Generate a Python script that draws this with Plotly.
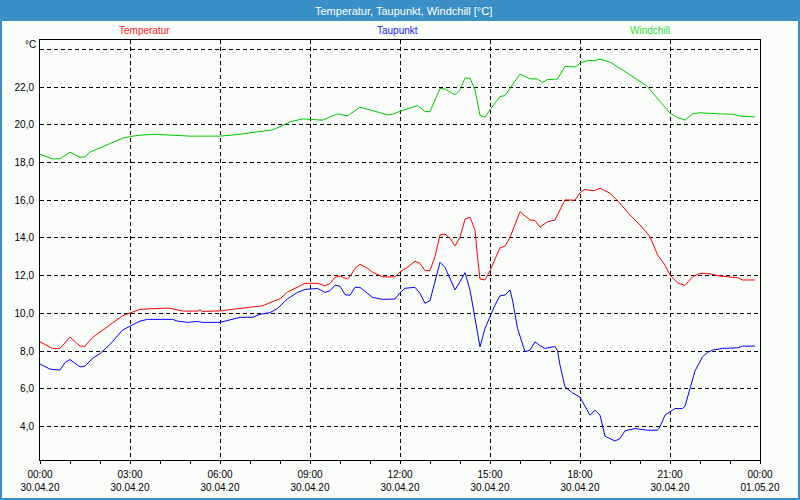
import plotly.graph_objects as go

DAY = "2020-04-30 "

# Windchill (green)
wc_t = ["00:00","00:25","00:40","01:00","01:20","01:30","01:40","02:15","02:45","03:00","03:20","03:50",
        "04:25","05:00","06:00","06:40","07:15","07:45","08:00","08:20","08:45","09:00","09:25","09:55",
        "10:15","10:40","11:05","11:35","11:45","12:00","12:35","12:50","13:00","13:20","13:30","13:50",
        "14:00","14:10","14:20","14:30","14:40","14:50","15:00","15:20","15:30","15:50","16:00","16:20",
        "16:35","16:45","16:55","17:15","17:30","17:50","18:00","18:15","18:30","18:40","19:00","19:20",
        "19:45","20:15","20:40","21:00","21:15","21:30","21:45","22:00","22:40","23:05","23:20","23:50"]
wc_v = [18.44,18.19,18.2,18.55,18.28,18.3,18.55,18.94,19.29,19.38,19.45,19.5,
        19.45,19.4,19.4,19.5,19.63,19.73,19.9,20.16,20.31,20.3,20.25,20.58,
        20.47,20.94,20.74,20.53,20.56,20.72,21.02,20.7,20.7,21.93,21.9,21.59,
        21.86,22.48,22.48,21.86,20.5,20.4,20.8,21.5,21.55,22.33,22.69,22.44,
        22.43,22.25,22.4,22.43,23.1,23.07,23.27,23.41,23.4,23.49,23.33,23.0,
        22.56,22.03,21.24,20.62,20.39,20.25,20.58,20.64,20.58,20.56,20.47,20.42]

# Temperatur (red)
t_t = ["00:00","00:25","00:40","01:00","01:20","01:30","01:45","02:05","02:25","02:45","03:00","03:20",
       "03:40","04:15","04:25","04:45","05:15","05:20","05:25","06:00","06:40","07:05","07:25","07:45",
       "08:00","08:15","08:35","08:50","09:15","09:30","09:40","09:50","10:00","10:15","10:20","10:30",
       "10:40","10:55","11:05","11:25","11:50","12:00","12:15","12:30","12:40","12:50","13:00","13:10",
       "13:20","13:30","13:40","13:50","14:00","14:10","14:20","14:30","14:35","14:40","14:50","15:00",
       "15:20","15:30","15:40","16:00","16:20","16:30","16:40","16:55","17:10","17:30","17:50","18:00",
       "18:10","18:20","18:30","18:40","19:00","19:15","19:40","20:00","20:20","20:35","20:50","21:00",
       "21:15","21:30","21:45","22:00","22:15","22:40","23:15","23:25","23:50"]
t_v = [8.49,8.14,8.14,8.74,8.26,8.26,8.72,9.11,9.47,9.87,10.02,10.21,
       10.24,10.28,10.24,10.12,10.12,10.19,10.1,10.13,10.26,10.33,10.4,10.62,
       10.77,11.13,11.38,11.59,11.59,11.46,11.59,11.91,11.98,11.82,11.95,12.39,
       12.6,12.39,12.18,11.94,11.93,12.2,12.44,12.76,12.65,12.26,12.28,13.0,
       14.16,14.2,13.98,13.57,14.03,15.0,15.1,14.42,13.0,11.82,11.77,12.26,
       13.48,13.56,14.03,15.39,14.95,14.93,14.57,14.86,14.95,16.02,16.0,16.4,
       16.58,16.52,16.52,16.64,16.37,15.98,15.22,14.69,14.07,13.1,12.56,12.03,
       11.62,11.48,11.94,12.12,12.12,11.98,11.89,11.77,11.77]

# Taupunkt (blue)
d_t = ["00:00","00:20","00:40","00:50","01:00","01:20","01:30","01:45","02:00","02:20","02:45","03:00",
       "03:20","03:35","04:25","04:35","04:55","05:15","05:25","06:00","06:40","07:05","07:20","07:40",
       "07:55","08:15","08:35","08:50","09:15","09:30","09:40","09:50","10:00","10:10","10:20","10:30",
       "10:40","11:05","11:25","11:50","12:00","12:10","12:30","12:40","12:50","13:00","13:10","13:20",
       "13:30","13:40","13:50","14:00","14:10","14:20","14:30","14:40","14:50","15:00","15:10","15:20",
       "15:30","15:40","15:45","15:55","16:10","16:20","16:30","16:40","16:50","17:10","17:15","17:20",
       "17:30","17:45","18:00","18:10","18:20","18:30","18:40","18:50","19:00","19:10","19:20","19:30",
       "19:50","20:15","20:35","20:40","20:50","21:00","21:10","21:25","21:30","21:40","21:50","22:05",
       "22:15","22:25","22:45","23:15","23:25","23:50"]
d_v = [7.31,7.04,6.99,7.39,7.55,7.16,7.2,7.61,7.87,8.35,9.11,9.32,
       9.59,9.68,9.68,9.59,9.52,9.57,9.52,9.52,9.79,9.79,9.95,10.04,
       10.26,10.77,11.11,11.27,11.32,11.11,11.2,11.49,11.44,10.99,10.96,11.38,
       11.38,10.85,10.74,10.76,11.1,11.33,11.38,11.06,10.53,10.67,11.77,12.71,
       12.44,11.82,11.24,11.68,12.16,11.24,9.64,8.22,9.2,9.82,10.44,10.93,
       10.97,11.24,10.7,9.2,7.96,8.05,8.49,8.28,8.14,8.24,8.01,7.25,
       6.1,5.78,5.55,5.07,4.6,4.86,4.6,3.48,3.36,3.23,3.36,3.77,
       3.89,3.8,3.8,3.98,4.6,4.77,4.95,4.95,5.07,6.01,6.95,7.69,
       7.93,8.05,8.14,8.17,8.26,8.26]

x_tick_vals = ["2020-04-30 00:00","2020-04-30 03:00","2020-04-30 06:00","2020-04-30 09:00",
               "2020-04-30 12:00","2020-04-30 15:00","2020-04-30 18:00","2020-04-30 21:00",
               "2020-05-01 00:00"]
x_tick_text = ["00:00<br>30.04.20","03:00<br>30.04.20","06:00<br>30.04.20","09:00<br>30.04.20",
               "12:00<br>30.04.20","15:00<br>30.04.20","18:00<br>30.04.20","21:00<br>30.04.20",
               "00:00<br>01.05.20"]
y_tick_vals = [4, 6, 8, 10, 12, 14, 16, 18, 20, 22, 24]
y_tick_text = ["4,0","6,0","8,0","10,0","12,0","14,0","16,0","18,0","20,0","22,0",""]

series_names = ["Temperatur", "Taupunkt", "Windchill"]

FONT = "Liberation Sans"
W, H = 800, 500
L, R, T, B = 40, 40, 40, 40
PW, PH = W - L - R, H - T - B

def px_x(x):
    return (x - L) / PW

def px_y(y):
    return (H - B - y) / PH

fig = go.Figure()
fig.add_trace(go.Scatter(x=[DAY + t for t in t_t], y=t_v, mode="lines",
                         line=dict(color="#ff0000", width=1), name=series_names[0]))
fig.add_trace(go.Scatter(x=[DAY + t for t in d_t], y=d_v, mode="lines",
                         line=dict(color="#0000ff", width=1), name=series_names[1]))
fig.add_trace(go.Scatter(x=[DAY + t for t in wc_t], y=wc_v, mode="lines",
                         line=dict(color="#00c800", width=1), name=series_names[2]))

fig.update_layout(
    width=W, height=H,
    margin=dict(l=L, r=R, t=T, b=B, autoexpand=False),
    paper_bgcolor="#fbfdfb",
    plot_bgcolor="#fbfdfb",
    showlegend=False,
    font=dict(family=FONT, size=10, color="#000000"),
    xaxis=dict(
        type="date", automargin=False,
        range=["2020-04-30 00:00", "2020-05-01 00:00"],
        tickmode="array", tickvals=x_tick_vals, ticktext=x_tick_text,
        showgrid=True, gridcolor="#000000", gridwidth=1, griddash="4px,3px",
        showline=True, linecolor="#000000", linewidth=1, mirror=True,
        ticks="outside", ticklen=3, tickcolor="#000000", ticklabelstandoff=2,
        minor=dict(dtick=3600000, ticks="outside", ticklen=3, tickcolor="#000000", showgrid=False),
        tickfont=dict(family=FONT, size=10, color="#000000"),
        zeroline=False,
    ),
    yaxis=dict(
        automargin=False,
        range=[2.22, 24.5],
        tickmode="array", tickvals=y_tick_vals, ticktext=y_tick_text,
        showgrid=True, gridcolor="#000000", gridwidth=1, griddash="4px,3px",
        showline=True, linecolor="#000000", linewidth=1, mirror=True,
        ticks="", ticklabelstandoff=3,
        tickfont=dict(family=FONT, size=10, color="#000000"),
        zeroline=False,
    ),
    shapes=[
        dict(type="rect", xref="paper", yref="paper",
             x0=px_x(0), x1=px_x(W), y0=px_y(0), y1=px_y(21),
             fillcolor="#3b8fc7", line=dict(width=0), layer="above"),
        dict(type="rect", xref="paper", yref="paper",
             x0=px_x(1), x1=px_x(W - 1), y0=px_y(1), y1=px_y(H - 1),
             fillcolor="rgba(0,0,0,0)", line=dict(color="#3b8fc7", width=2), layer="above"),
    ],
    annotations=[
        dict(text="Temperatur, Taupunkt, Windchill [°C]", xref="paper", yref="paper",
             x=px_x(403), y=px_y(10.5), xanchor="center", yanchor="middle", showarrow=False,
             font=dict(family=FONT, size=11, color="#ffffff")),
        dict(text=series_names[0], xref="paper", yref="paper",
             x=px_x(144), y=px_y(30), xanchor="center", yanchor="middle", showarrow=False,
             font=dict(family=FONT, size=10, color="#ff2020")),
        dict(text=series_names[1], xref="paper", yref="paper",
             x=px_x(397), y=px_y(30), xanchor="center", yanchor="middle", showarrow=False,
             font=dict(family=FONT, size=10, color="#2020ff")),
        dict(text=series_names[2], xref="paper", yref="paper",
             x=px_x(650), y=px_y(30), xanchor="center", yanchor="middle", showarrow=False,
             font=dict(family=FONT, size=10, color="#30e030")),
        dict(text="°C", xref="paper", yref="paper",
             x=px_x(38), y=px_y(45), xanchor="right", yanchor="middle", showarrow=False,
             font=dict(family=FONT, size=10, color="#000000")),
    ],
)

fig.write_html("out.html", config={"displayModeBar": False},
               post_script="document.body.style.margin='0';document.body.style.overflow='hidden';")
